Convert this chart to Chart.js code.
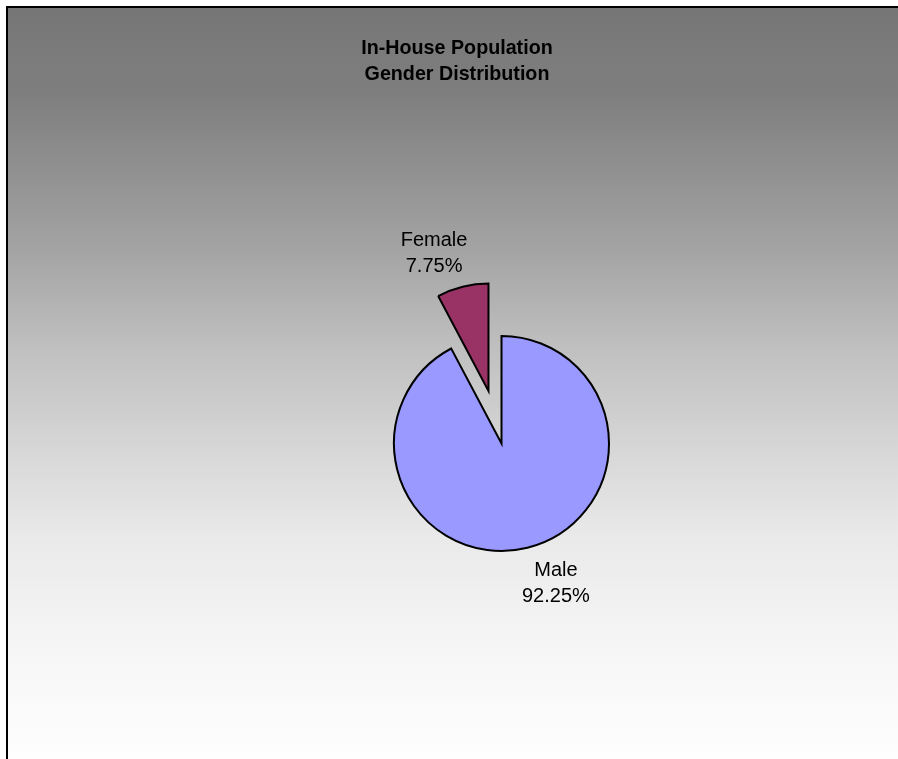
<!DOCTYPE html>
<html><head><meta charset="utf-8">
<script src="https://cdn.jsdelivr.net/npm/chart.js@4.4.1/dist/chart.umd.min.js"></script>
<style>html,body{margin:0;padding:0;background:#fff;overflow:hidden;width:898px;height:759px}canvas{display:block}</style>
</head><body>
<canvas id="c" width="898" height="759"></canvas>
<script>
const titleLines = ['In-House Population', 'Gender Distribution'];
const categories = ['Male', 'Female'];
const percentages = [92.25, 7.75];
const sliceColors = ['#9999FF', '#993366'];
const explodePx = [0, 54];

const framePlugin = {
  id: 'frame',
  beforeDraw(chart) {
    const ctx = chart.ctx, W = chart.width, H = chart.height;
    ctx.save();
    ctx.fillStyle = '#fff';
    ctx.fillRect(0, 0, W, H);
    const g = ctx.createLinearGradient(0, 7, 0, 760);
    g.addColorStop(0.00, '#767676');
    g.addColorStop(0.12, '#7f7f7f');
    g.addColorStop(0.32, '#a3a3a3');
    g.addColorStop(0.45, '#bfbfbf');
    g.addColorStop(0.56, '#d2d2d2');
    g.addColorStop(0.70, '#e9e9e9');
    g.addColorStop(0.85, '#f6f6f6');
    g.addColorStop(1.00, '#fefefe');
    ctx.fillStyle = g;
    ctx.fillRect(7, 7, W - 7, H - 7);
    ctx.fillStyle = '#000';
    ctx.fillRect(6, 6, 2, H - 6);
    ctx.fillRect(6, 6, W - 6, 2);
    ctx.restore();
  }
};

// explode slices by moving each arc's centre outward along its mid-angle
const explodePlugin = {
  id: 'explode',
  afterDatasetUpdate(chart, args) {
    args.meta.data.forEach((arc, i) => {
      const d = explodePx[i] || 0;
      if (!d) return;
      const mid = (arc.startAngle + arc.endAngle) / 2;
      arc.x += Math.cos(mid) * d;
      arc.y += Math.sin(mid) * d;
    });
  }
};

const textPlugin = {
  id: 'texts',
  afterDraw(chart) {
    const ctx = chart.ctx;
    const meta = chart.getDatasetMeta(0);
    const total = percentages.reduce((a, b) => a + b, 0);
    ctx.save();
    ctx.fillStyle = '#000';
    ctx.textAlign = 'center';
    ctx.textBaseline = 'alphabetic';
    ctx.font = 'bold 19.7px "Liberation Sans", Arial, sans-serif';
    ctx.fillText(titleLines[0], 457, 54);
    ctx.fillText(titleLines[1], 457, 80);
    ctx.font = '20px "Liberation Sans", Arial, sans-serif';
    meta.data.forEach((arc, i) => {
      const mid = (arc.startAngle + arc.endAngle) / 2;
      const dx = Math.cos(mid), dy = Math.sin(mid);
      const r = arc.outerRadius;
      const px = arc.x + dx * r + Math.sign(dx) * 28.5;
      const py = arc.y + dy * r + Math.sign(dy) * 34.5;
      const pct = (percentages[i] / total * 100).toFixed(2) + '%';
      ctx.fillText(categories[i], px, py - 6.5);
      ctx.fillText(pct, px, py + 19.5);
    });
    ctx.restore();
  }
};

new Chart(document.getElementById('c'), {
  type: 'pie',
  data: {
    labels: categories,
    datasets: [{
      data: percentages,
      backgroundColor: sliceColors,
      borderColor: '#000',
      borderWidth: 2,
      borderJoinStyle: 'miter',
      offset: 0,
      hoverOffset: 0
    }]
  },
  options: {
    responsive: false,
    animation: false,
    devicePixelRatio: 1,
    radius: 107.5,
    layout: { padding: { left: 105, right: 0, top: 128, bottom: 0 } },
    plugins: {
      legend: { display: false },
      title: { display: false },
      tooltip: { enabled: false }
    },
    events: []
  },
  plugins: [framePlugin, explodePlugin, textPlugin]
});
</script>
</body></html>
